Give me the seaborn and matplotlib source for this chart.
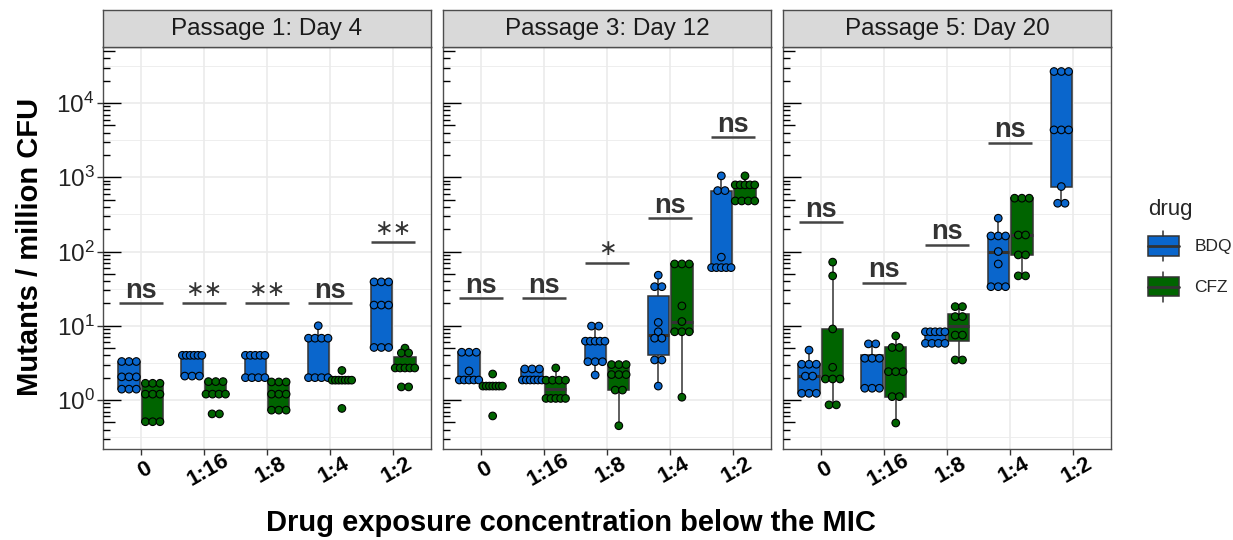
import numpy as np
import pandas as pd
import matplotlib
matplotlib.use("Agg")
import matplotlib.pyplot as plt
import seaborn as sns
from matplotlib.transforms import blended_transform_factory, ScaledTranslation
from matplotlib.legend_handler import HandlerBase
from matplotlib.patches import Rectangle, Patch
from matplotlib.lines import Line2D
from matplotlib.ticker import FixedLocator, NullFormatter, LogFormatterMathtext

# ---------------- data ----------------
passages = ["Passage 1: Day 4", "Passage 3: Day 12", "Passage 5: Day 20"]
concentrations = ["0", "1:16", "1:8", "1:4", "1:2"]
drugs = ["BDQ", "CFZ"]
drug_colors = {"BDQ": "#0A66CC", "CFZ": "#006400"}

p1_bdq = [
    [3.3, 3.3, 3.3, 2.05, 2.05, 2.05, 1.4, 1.4, 1.4],
    [4.0, 4.0, 4.0, 4.0, 4.0, 4.0, 2.1, 2.1, 2.1],
    [4.0, 4.0, 4.0, 4.0, 4.0, 2.0, 2.0, 2.0, 2.0],
    [10.0, 6.8, 6.8, 6.8, 6.8, 2.0, 2.0, 2.0, 2.0],
    [39, 39, 39, 19, 19, 19, 5.1, 5.1, 5.1],
]
p1_cfz = [
    [1.68, 1.68, 1.68, 1.2, 1.2, 1.2, 0.51, 0.51, 0.51],
    [1.77, 1.77, 1.77, 1.2, 1.2, 1.2, 1.2, 0.65, 0.65],
    [1.75, 1.75, 1.75, 1.2, 1.2, 1.2, 0.73, 0.73, 0.73],
    [2.5, 1.85, 1.85, 1.85, 1.85, 1.85, 1.85, 1.85, 0.77],
    [5.0, 4.3, 4.3, 2.7, 2.7, 2.7, 2.7, 2.7, 1.5, 1.5],
]
p2_bdq = [
    [4.4, 4.4, 4.4, 2.46, 1.86, 1.86, 1.86, 1.86, 1.86],
    [2.62, 2.62, 2.62, 1.86, 1.86, 1.86, 1.86, 1.86, 1.86],
    [9.9, 9.9, 6.2, 6.2, 6.2, 6.2, 6.2, 3.28, 3.28, 3.28, 2.17],
    [48, 33.6, 33.6, 11.1, 8.3, 6.8, 6.8, 3.46, 3.46, 1.54],
    [1045, 662, 662, 84, 60.7, 60.7, 60.7, 60.7, 60.7],
]
p2_cfz = [
    [2.24, 1.54, 1.54, 1.54, 1.54, 1.54, 1.54, 1.54, 0.61],
    [2.7, 1.85, 1.85, 1.85, 1.85, 1.05, 1.05, 1.05, 1.05, 1.05],
    [3.0, 3.0, 3.0, 2.2, 2.2, 2.2, 1.36, 1.36, 0.45],
    [68, 68, 68, 18.5, 11.4, 8.3, 8.3, 8.3, 1.09],
    [1045, 790, 790, 790, 790, 790, 480, 480, 480, 480],
]
p3_bdq = [
    [4.7, 3.03, 3.03, 3.03, 2.1, 2.1, 1.23, 1.23, 1.23],
    [5.7, 5.7, 3.65, 3.65, 3.65, 1.44, 1.44, 1.44],
    [8.3, 8.3, 8.3, 8.3, 8.3, 5.8, 5.8, 5.8, 5.8],
    [281, 162, 162, 162, 100, 68, 33.6, 33.6, 33.6],
    [26600, 26600, 26600, 4350, 4350, 4350, 750, 447, 447],
]
p3_cfz = [
    [72, 47, 9.06, 2.76, 1.92, 1.92, 1.92, 0.86, 0.86],
    [7.3, 5.1, 5.1, 2.41, 2.41, 2.41, 1.11, 1.11, 0.49],
    [18.1, 18.1, 13.3, 13.3, 7.5, 7.5, 3.46, 3.46],
    [523, 523, 523, 167, 167, 90, 90, 47, 47],
    [],
]

p1_sig_labels = ["ns", "**", "**", "ns", "**"]
p1_sig_y = [20, 20, 20, 20, 133]
p2_sig_labels = ["ns", "ns", "*", "ns", "ns"]
p2_sig_y = [23.5, 23.5, 71, 281, 3470]
p3_sig_labels = ["ns", "ns", "ns", "ns", None]
p3_sig_y = [248, 38, 123, 2940, None]

panel_data = [(p1_bdq, p1_cfz), (p2_bdq, p2_cfz), (p3_bdq, p3_cfz)]
panel_sig = [(p1_sig_labels, p1_sig_y), (p2_sig_labels, p2_sig_y), (p3_sig_labels, p3_sig_y)]

# ---------------- layout constants ----------------
W, H = 1233, 540
PANEL_LEFT = [103, 443, 783]
PANEL_W = 328
TOP, BOTTOM = 47, 449
STRIP_TOP = 10
XLIM = (-0.6, 4.6)
YLIM = (10 ** -0.66, 10 ** 4.755)
PX_PER_UNIT = PANEL_W / (XLIM[1] - XLIM[0])
DOT_PX = 7.3
MAX_SPAN_PX = 19.5
DODGE = 0.1875
BORDER = "#4d4d4d"
GRID = "#EBEBEB"
TXT = "#333333"


def stack_x(values, center):
    vals = np.asarray(values, dtype=float)
    xs = np.empty(len(vals))
    for v in np.unique(vals):
        idx = np.where(vals == v)[0]
        k = len(idx)
        step = DOT_PX if k < 2 else min(DOT_PX, MAX_SPAN_PX / (k - 1))
        xs[idx] = center + (np.arange(k) - (k - 1) / 2) * step / PX_PER_UNIT
    return xs


rows = []
for p, (bdq, cfz) in zip(passages, panel_data):
    for d, series in zip(drugs, (bdq, cfz)):
        for ci, (c, vals) in enumerate(zip(concentrations, series)):
            if len(vals) == 0:
                continue
            off = -DODGE if d == "BDQ" else DODGE
            xs = stack_x(vals, ci + off)
            for v, x in zip(vals, xs):
                rows.append({"passage": p, "conc": c, "drug": d, "value": v, "xpos": x})
df = pd.DataFrame(rows)

# ---------------- style ----------------
sns.set_theme(style="white")
plt.rcParams["font.family"] = ["Liberation Sans", "DejaVu Sans"]
plt.rcParams["mathtext.fontset"] = "custom"
plt.rcParams["mathtext.rm"] = "Liberation Sans"
plt.rcParams["mathtext.it"] = "Liberation Sans:italic"
plt.rcParams["mathtext.bf"] = "Liberation Sans:bold"

fig = plt.figure(figsize=(W / 100, H / 100), dpi=100)

for i, p in enumerate(passages):
    L = PANEL_LEFT[i]
    ax = fig.add_axes([L / W, 1 - BOTTOM / H, PANEL_W / W, (BOTTOM - TOP) / H])
    sub = df[df.passage == p]
    sns.boxplot(data=sub, x="conc", y="value", hue="drug", order=concentrations,
                hue_order=drugs, palette=drug_colors, width=0.75, gap=0.1,
                linewidth=1.1, linecolor="#333333", showfliers=False, showcaps=False,
                saturation=1, log_scale=True, legend=False,
                medianprops={"linewidth": 2.2}, ax=ax, zorder=2)
    sns.scatterplot(data=sub, x="xpos", y="value", hue="drug", hue_order=drugs,
                    palette=drug_colors, s=30, edgecolor="black", linewidth=0.8,
                    legend=False, ax=ax, zorder=4)
    ax.set_xlim(*XLIM)
    ax.set_ylim(*YLIM)
    ax.set_xlabel("")
    ax.set_ylabel("")

    # grid
    ax.set_axisbelow(True)
    ax.yaxis.set_major_locator(FixedLocator([1, 10, 100, 1000, 10000]))
    ax.yaxis.set_minor_locator(FixedLocator([10 ** (k + 0.5) for k in range(-1, 5)]))
    ax.yaxis.set_minor_formatter(NullFormatter())
    ax.grid(True, which="major", color=GRID, linewidth=1.2, zorder=0)
    ax.grid(True, which="minor", axis="y", color=GRID, linewidth=0.6, zorder=0)
    ax.tick_params(axis="y", which="minor", length=0)

    # spines
    for s in ax.spines.values():
        s.set_color(BORDER)
        s.set_linewidth(1.0)
        s.set_visible(True)

    # log ticks (annotation_logticks style, left side)
    trans = blended_transform_factory(ax.transAxes, ax.transData)
    for k in range(-1, 5):
        for m in range(1, 10):
            v = m * 10 ** k
            if YLIM[0] <= v <= YLIM[1]:
                ln = 18 if m == 1 else (12 if m == 5 else 7)
                ax.plot([0, ln / PANEL_W], [v, v], transform=trans, color="black",
                        linewidth=1.0, solid_capstyle="butt", zorder=5)

    # y ticks
    if i == 0:
        ax.yaxis.set_major_formatter(LogFormatterMathtext())
        ax.tick_params(axis="y", which="major", length=4, width=1, color="#333333",
                       direction="out", labelsize=17.5, pad=2, labelcolor="#222222", left=True)
    else:
        ax.tick_params(axis="y", which="major", length=0, labelleft=False)

    # x ticks
    ax.set_xticks(range(len(concentrations)))
    ax.set_xticklabels(concentrations)
    ax.tick_params(axis="x", which="major", length=4, width=1, color="#333333",
                   direction="out", pad=11, bottom=True)
    for lab in ax.get_xticklabels():
        lab.set_rotation(30)
        lab.set_fontsize(16)
        lab.set_fontweight("bold")
        lab.set_ha("center")
        lab.set_va("center")
        lab.set_color("black")
        lab.set_transform(lab.get_transform() + ScaledTranslation(4 / 100, 0, fig.dpi_scale_trans))

    # significance annotations
    labels, ys = panel_sig[i]
    for ci, (lab, yv) in enumerate(zip(labels, ys)):
        if lab is None:
            continue
        ax.plot([ci - 0.35, ci + 0.35], [yv, yv], color="#444444", linewidth=1.8,
                solid_capstyle="butt", zorder=5)
        if lab == "ns":
            ax.annotate(lab, (ci, yv), xytext=(0, 4), textcoords="offset points",
                        ha="center", va="baseline", fontsize=19.5, fontweight="bold",
                        color=TXT, zorder=6)
        else:
            stars = "\u2217" * len(lab)
            ax.annotate(stars, (ci, yv), xytext=(0, 2.5), textcoords="offset points",
                        ha="center", va="bottom", fontsize=16, color=TXT,
                        family=["DejaVu Sans"], zorder=6)

    # strip
    sax = fig.add_axes([L / W, 1 - TOP / H, PANEL_W / W, (TOP - STRIP_TOP) / H])
    sax.set_facecolor("#D9D9D9")
    sax.set_xticks([])
    sax.set_yticks([])
    for s in sax.spines.values():
        s.set_color(BORDER)
        s.set_linewidth(1.0)
        s.set_visible(True)
    sax.text(0.5, 0.5, p, ha="center", va="center", fontsize=17.5, color="#1a1a1a",
             transform=sax.transAxes)

# axis titles
fig.text(571 / W, 1 - 523 / H, "Drug exposure concentration below the MIC", ha="center",
         va="center", fontsize=21, fontweight="bold", color="black")
fig.text(30 / W, 1 - 247 / H, "Mutants / million CFU", ha="center", va="center",
         rotation=90, fontsize=21, fontweight="bold", color="black")


# legend with boxplot-style keys
class BoxHandler(HandlerBase):
    def create_artists(self, legend, orig_handle, xdescent, ydescent, width, height,
                       fontsize, trans):
        fc = orig_handle.get_facecolor()
        x0, y0 = -xdescent, -ydescent
        cx = x0 + width / 2
        wh = height * 0.18
        rect = Rectangle((x0, y0 + wh), width, height - 2 * wh, facecolor=fc,
                         edgecolor="#333333", linewidth=1.1, transform=trans)
        med = Line2D([x0, x0 + width], [y0 + height / 2] * 2, color="#333333",
                     linewidth=2.0, transform=trans)
        wt = Line2D([cx, cx], [y0 + height - wh, y0 + height], color="#333333",
                    linewidth=1.1, transform=trans)
        wb = Line2D([cx, cx], [y0, y0 + wh], color="#333333", linewidth=1.1,
                    transform=trans)
        return [rect, med, wt, wb]


handles = [Patch(facecolor=drug_colors[d], edgecolor="#333333", label=d) for d in drugs]
leg = fig.legend(handles=handles, labels=drugs, title="drug", loc="upper left",
                 bbox_to_anchor=(1143 / W, 1 - 194 / H), frameon=False,
                 fontsize=12.5, title_fontsize=16, handlelength=1.75, handleheight=2.28,
                 handletextpad=0.9, labelspacing=0.62, borderpad=0.3, borderaxespad=0,
                 alignment="left", handler_map={Patch: BoxHandler()})

fig.savefig("out.png", dpi=100)
